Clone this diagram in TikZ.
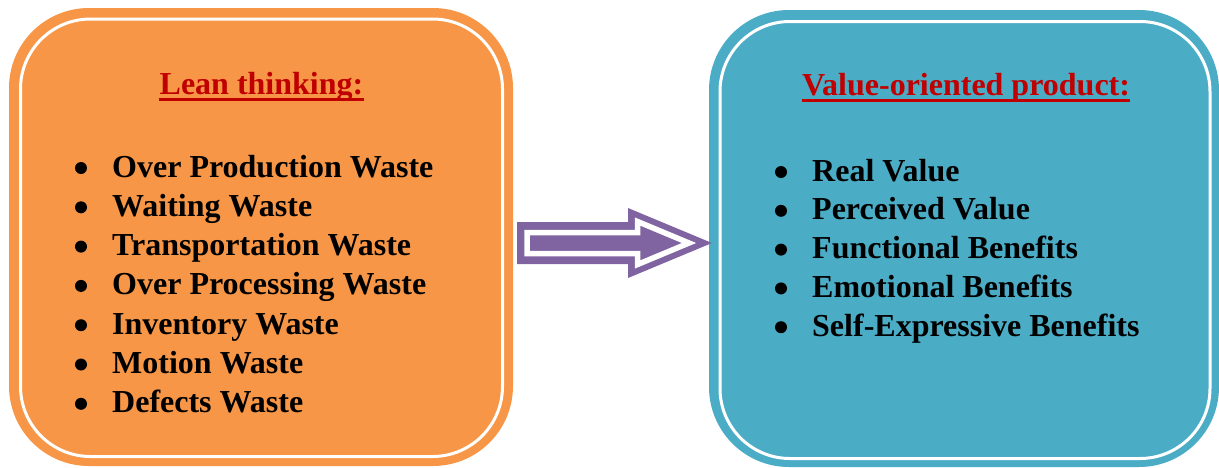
\documentclass[tikz,border=0pt]{standalone}
\usepackage{fontspec}
\setmainfont{Liberation Serif}
\definecolor{leanorange}{HTML}{F79646}
\definecolor{valueblue}{HTML}{4BACC6}
\definecolor{arrowpurple}{HTML}{8064A2}
\definecolor{titlered}{HTML}{C00000}
\tikzset{
  panel/.style={rectangle, rounded corners=80pt, inner sep=0pt, draw=none},
  innerline/.style={draw=white, line width=3pt, rounded corners=70pt},
  heading/.style={font=\fontsize{32}{38}\selectfont\bfseries, text=titlered, inner sep=0pt, anchor=base},
  headrule/.style={draw=titlered, line width=3pt},
  item/.style={font=\fontsize{32}{38}\selectfont\bfseries, inner sep=0pt, anchor=base west},
  dot/.style={circle, fill=black, inner sep=0pt, minimum size=12pt},
}
\begin{document}
\begin{tikzpicture}[x=1pt,y=-1pt]
\useasboundingbox (0,0) rectangle (1219,467);

% left panel: lean thinking
\node[panel, fill=leanorange, minimum width=504pt, minimum height=458pt] (lean) at (261,237) {};
\draw[innerline] (20.5,19) rectangle (502.5,456.5);

% right panel: value-oriented product
\node[panel, fill=valueblue, minimum width=510pt, minimum height=457pt] (value) at (964,238.5) {};
\draw[innerline] (720,21.5) rectangle (1210,458.5);

% headings
\node[heading] (leantitle) at (261.5,94) {Lean thinking:};
\draw[headrule] ([yshift=-5pt]leantitle.base west) -- ([yshift=-5pt]leantitle.base east);
\node[heading] (valuetitle) at (966,95) {Value-oriented product:};
\draw[headrule] ([yshift=-5.5pt]valuetitle.base west) -- ([yshift=-5.5pt]valuetitle.base east);

% waste list
\foreach \txt [count=\i from 0] in {Over Production Waste, Waiting Waste, Transportation Waste,
    Over Processing Waste, Inventory Waste, Motion Waste, Defects Waste}{
  \pgfmathsetmacro{\yb}{177+39.3*\i}
  \node[item] (w\i) at (112,\yb) {\txt};
  \node[dot] (wb\i) at (81,\yb-9) {};
}

% value list
\foreach \txt [count=\i from 0] in {Real Value, Perceived Value, Functional Benefits,
    Emotional Benefits, Self-Expressive Benefits}{
  \pgfmathsetmacro{\yb}{181+38.8*\i}
  \node[item] (v\i) at (812,\yb) {\txt};
  \node[dot] (vb\i) at (781,\yb-9) {};
}

% block arrow between the panels
\fill[arrowpurple] (517,222) -- (628,222) -- (628,208) -- (712,243) -- (628,278)
  -- (628,264) -- (517,264) -- cycle;
\draw[white, line width=5.5pt, miter limit=10] (527,232.5) -- (637.5,232.5) -- (637.5,221.5)
  -- (689,243) -- (637.5,264.5) -- (637.5,253.5) -- (527,253.5) -- cycle;
\end{tikzpicture}
\end{document}
